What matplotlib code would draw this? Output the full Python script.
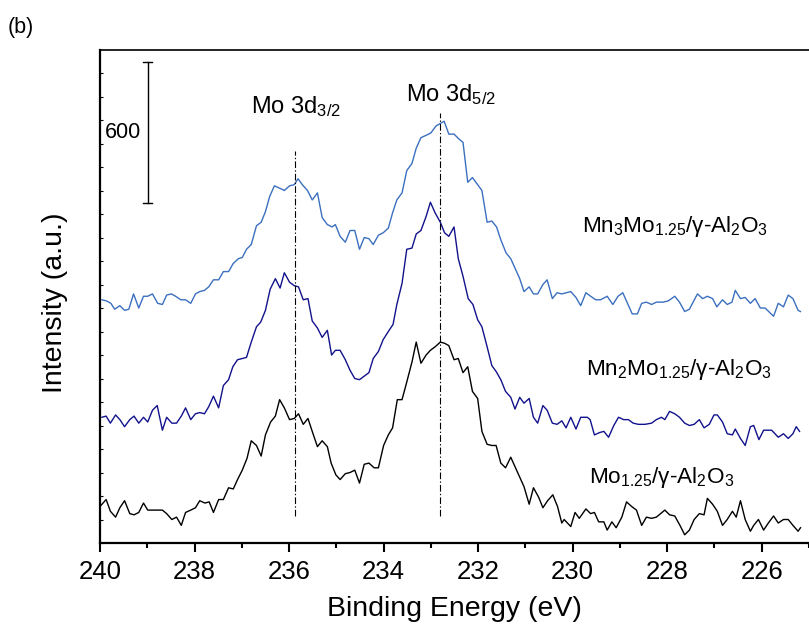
import matplotlib
matplotlib.use("Agg")
import matplotlib.pyplot as plt
import numpy as np

plt.rcParams['font.family'] = ['Liberation Sans', 'DejaVu Sans']
plt.rcParams['mathtext.fontset'] = 'custom'
plt.rcParams['mathtext.rm'] = 'Liberation Sans'
plt.rcParams['mathtext.it'] = 'Liberation Sans'
plt.rcParams['mathtext.default'] = 'regular'

# ---------------- data (binding energy in eV, intensity in counts) ----------------
mn3_energy = [239.96, 239.86, 239.77, 239.69, 239.58, 239.48, 239.39, 239.29, 239.18, 239.08,
              238.99, 238.89, 238.78, 238.68, 238.59, 238.49, 238.40, 238.29, 238.19, 238.08,
              237.98, 237.89, 237.79, 237.70, 237.60, 237.49, 237.39, 237.28, 237.18, 237.07,
              236.99, 236.90, 236.80, 236.69, 236.59, 236.50, 236.41, 236.31, 236.20, 236.10,
              235.99, 235.89, 235.81, 235.72, 235.61, 235.51, 235.40, 235.30, 235.19, 235.09,
              235.02, 234.92, 234.81, 234.71, 234.61, 234.51, 234.41, 234.31, 234.22, 234.11,
              234.01, 233.90, 233.81, 233.72, 233.61, 233.51, 233.40, 233.31, 233.21, 233.10,
              233.00, 232.89, 232.80, 232.72, 232.62, 232.51, 232.41, 232.32, 232.22, 232.12,
              232.01, 231.92, 231.81, 231.71, 231.61, 231.52, 231.41, 231.31, 231.22, 231.12,
              231.03, 230.92, 230.83, 230.74, 230.63, 230.54, 230.43, 230.33, 230.23, 230.04,
              229.93, 229.83, 229.72, 229.62, 229.51, 229.41, 229.27, 229.15, 229.04, 228.94,
              228.84, 228.74, 228.63, 228.54, 228.44, 228.33, 228.23, 228.09, 227.98, 227.84,
              227.74, 227.63, 227.53, 227.36, 227.25, 227.15, 227.04, 226.95, 226.83, 226.73,
              226.63, 226.56, 226.45, 226.35, 226.24, 226.14, 226.03, 225.93, 225.75, 225.65,
              225.54, 225.44, 225.34, 225.23, 225.18]
mn3_counts = [1035, 1030, 1020, 995, 1010, 990, 995, 1060, 1000, 1050,
              1050, 1060, 1020, 1015, 1055, 1060, 1050, 1035, 1035, 1020,
              1060, 1070, 1075, 1090, 1120, 1120, 1155, 1155, 1190, 1210,
              1215, 1250, 1270, 1350, 1365, 1410, 1475, 1520, 1510, 1500,
              1520, 1525, 1550, 1525, 1500, 1460, 1490, 1385, 1355, 1345,
              1355, 1305, 1280, 1330, 1330, 1250, 1300, 1295, 1270, 1310,
              1320, 1340, 1405, 1460, 1490, 1585, 1615, 1680, 1725, 1735,
              1745, 1775, 1785, 1795, 1740, 1740, 1720, 1705, 1535, 1555,
              1525, 1500, 1365, 1370, 1345, 1290, 1235, 1210, 1170, 1125,
              1070, 1090, 1060, 1060, 1100, 1120, 1040, 1065, 1060, 1070,
              1045, 1010, 1065, 1050, 1035, 1035, 1050, 1015, 1050, 1065,
              1020, 975, 975, 1020, 1025, 1015, 1025, 1025, 1030, 1050,
              1025, 985, 995, 1060, 1040, 1050, 1040, 1005, 1035, 1015,
              1025, 1075, 1040, 1045, 1020, 1040, 1000, 1000, 965, 1020,
              1005, 1055, 1040, 990, 985]

mn2_energy = [239.96, 239.87, 239.78, 239.67, 239.58, 239.48, 239.37, 239.28, 239.18, 239.08,
              238.99, 238.89, 238.79, 238.68, 238.59, 238.48, 238.38, 238.28, 238.19, 238.08,
              237.98, 237.89, 237.79, 237.70, 237.60, 237.49, 237.39, 237.28, 237.19, 237.09,
              236.99, 236.90, 236.80, 236.69, 236.60, 236.50, 236.40, 236.29, 236.19, 236.10,
              235.99, 235.89, 235.80, 235.70, 235.60, 235.51, 235.40, 235.30, 235.19, 235.10,
              235.02, 234.92, 234.81, 234.71, 234.61, 234.51, 234.41, 234.31, 234.22, 234.11,
              234.01, 233.90, 233.80, 233.72, 233.61, 233.51, 233.40, 233.31, 233.21, 233.10,
              233.01, 232.91, 232.80, 232.71, 232.62, 232.51, 232.42, 232.32, 232.21, 232.11,
              232.01, 231.92, 231.81, 231.71, 231.62, 231.52, 231.42, 231.31, 231.22, 231.12,
              231.03, 230.92, 230.83, 230.74, 230.63, 230.54, 230.43, 230.33, 230.23, 230.14,
              230.04, 229.93, 229.83, 229.69, 229.63, 229.54, 229.43, 229.34, 229.24, 229.13,
              229.03, 228.92, 228.82, 228.72, 228.61, 228.47, 228.33, 228.23, 228.12, 228.05,
              227.95, 227.84, 227.74, 227.63, 227.53, 227.43, 227.32, 227.22, 227.11, 227.01,
              226.94, 226.83, 226.73, 226.62, 226.56, 226.45, 226.35, 226.24, 226.17, 226.06,
              225.96, 225.79, 225.65, 225.54, 225.44, 225.34, 225.27, 225.20]
mn2_counts = [535, 540, 510, 545, 525, 495, 525, 540, 510, 535,
              515, 565, 585, 480, 535, 510, 510, 540, 575, 525,
              550, 555, 550, 580, 625, 575, 670, 695, 750, 780,
              785, 790, 855, 920, 940, 990, 1080, 1125, 1085, 1150,
              1110, 1095, 1090, 1035, 1040, 945, 915, 875, 905, 800,
              820, 820, 780, 735, 700, 695, 710, 725, 785, 815,
              865, 900, 930, 1015, 1105, 1250, 1255, 1315, 1330, 1390,
              1450, 1405, 1365, 1320, 1305, 1345, 1210, 1135, 1040, 1015,
              950, 920, 835, 755, 730, 695, 645, 620, 570, 620,
              595, 615, 535, 510, 585, 565, 510, 505, 520, 490,
              535, 485, 535, 535, 525, 460, 470, 475, 450, 500,
              535, 525, 525, 510, 505, 505, 510, 525, 535, 525,
              560, 550, 535, 510, 500, 505, 525, 490, 505, 545,
              545, 515, 465, 460, 485, 445, 415, 495, 500, 440,
              480, 480, 450, 465, 445, 465, 495, 475]

mo_energy = [239.98, 239.87, 239.78, 239.67, 239.58, 239.48, 239.37, 239.28, 239.18, 239.08,
             238.99, 238.89, 238.78, 238.68, 238.59, 238.48, 238.38, 238.28, 238.19, 238.08,
             237.98, 237.89, 237.78, 237.69, 237.60, 237.49, 237.39, 237.28, 237.18, 237.09,
             236.99, 236.89, 236.80, 236.69, 236.59, 236.50, 236.39, 236.29, 236.20, 236.10,
             235.99, 235.89, 235.80, 235.70, 235.60, 235.51, 235.40, 235.30, 235.19, 235.11,
             235.01, 234.92, 234.81, 234.71, 234.61, 234.51, 234.41, 234.31, 234.20, 234.11,
             234.00, 233.90, 233.81, 233.71, 233.61, 233.51, 233.40, 233.31, 233.21, 233.10,
             233.01, 232.91, 232.80, 232.71, 232.62, 232.51, 232.42, 232.32, 232.22, 232.12,
             232.01, 231.92, 231.81, 231.71, 231.62, 231.52, 231.42, 231.31, 231.22, 231.12,
             231.03, 230.92, 230.83, 230.72, 230.63, 230.53, 230.42, 230.32, 230.23, 230.18,
             230.04, 229.95, 229.86, 229.72, 229.62, 229.54, 229.45, 229.34, 229.27, 229.17,
             229.08, 228.96, 228.86, 228.75, 228.65, 228.54, 228.44, 228.33, 228.23, 228.05,
             227.95, 227.84, 227.73, 227.63, 227.53, 227.43, 227.32, 227.22, 227.15, 227.04,
             226.94, 226.83, 226.73, 226.62, 226.54, 226.45, 226.35, 226.24, 226.17, 226.07,
             225.96, 225.86, 225.75, 225.65, 225.54, 225.44, 225.34, 225.23, 225.18]
mo_counts = [160, 185, 135, 110, 150, 180, 125, 120, 130, 170,
             140, 140, 140, 140, 125, 100, 110, 75, 130, 140,
             150, 180, 170, 175, 130, 185, 185, 235, 230, 270,
             310, 360, 435, 415, 370, 460, 515, 540, 610, 575,
             525, 530, 550, 505, 530, 475, 410, 435, 410, 340,
             290, 270, 295, 300, 310, 255, 335, 340, 320, 320,
             415, 460, 490, 610, 610, 685, 770, 855, 765, 800,
             820, 835, 855, 850, 840, 780, 785, 725, 750, 645,
             615, 475, 420, 415, 415, 340, 320, 365, 325, 280,
             240, 165, 235, 195, 150, 180, 205, 155, 85, 100,
             70, 130, 105, 145, 125, 130, 90, 90, 55, 90,
             65, 110, 175, 155, 140, 75, 110, 105, 110, 140,
             120, 115, 75, 35, 55, 100, 125, 120, 190, 165,
             135, 75, 100, 135, 110, 180, 100, 50, 75, 100,
             55, 85, 115, 85, 100, 100, 75, 50, 65]

series_labels = [r'Mn$_3$Mo$_{1.25}$/γ-Al$_2$O$_3$',
                 r'Mn$_2$Mo$_{1.25}$/γ-Al$_2$O$_3$',
                 r'Mo$_{1.25}$/γ-Al$_2$O$_3$']
series_colors = ['#3b6fbf', '#12128c', '#000000']
label_energy = [229.80, 229.72, 229.66]
label_counts = [1325, 715, 257]

peak_labels = [r'Mo 3d$_{3/2}$', r'Mo 3d$_{5/2}$']
peak_energy = [235.87, 232.80]
peak_line_top = [1668, 1828]
peak_line_bottom = 113
peak_label_energy = [236.80, 233.52]
peak_label_counts = [1830, 1881]

scale_energy = 238.99
scale_low, scale_high = 1448, 2048
scale_text = '600'

x_major = [240, 238, 236, 234, 232, 230, 228, 226]
x_minor = [239, 237, 235, 233, 231, 229, 227, 225]
y_ticks = list(range(0, 2100, 100))

# ---------------- figure ----------------
W, H = 809, 631
fig = plt.figure(figsize=(W / 100, H / 100), dpi=100)
ax = fig.add_axes([100 / W, 88 / H, 709 / W, 493 / H])

series = [(mn3_energy, mn3_counts), (mn2_energy, mn2_counts), (mo_energy, mo_counts)]
for (e, c), col in zip(series, series_colors):
    ax.plot(e, c, color=col, lw=1.0)

for lab, le, lc in zip(series_labels, label_energy, label_counts):
    ax.text(le, lc, lab, fontsize=16.2, ha='left', va='baseline', color='black')

for pe, pt in zip(peak_energy, peak_line_top):
    ax.plot([pe, pe], [peak_line_bottom, pt], color='black', lw=0.8,
            linestyle=(0, (6, 2, 1.2, 2)))
for lab, le, lc in zip(peak_labels, peak_label_energy, peak_label_counts):
    ax.text(le, lc, lab, fontsize=17, ha='left', va='baseline')

# scale bar
cap = 0.09
ax.plot([scale_energy, scale_energy], [scale_low, scale_high], color='black', lw=1.0)
ax.plot([scale_energy - cap, scale_energy + cap], [scale_high, scale_high], color='black', lw=1.0)
ax.plot([scale_energy - cap, scale_energy + cap], [scale_low, scale_low], color='black', lw=1.0)
ax.text(239.90, (scale_low + scale_high) / 2, scale_text, fontsize=15.5, ha='left', va='center')

ax.set_xlim(240, 225.18)
ax.set_ylim(0, 2098)
ax.set_xticks(x_major)
ax.set_xticks(x_minor, minor=True)
ax.set_xticklabels([str(v) for v in x_major])
ax.set_yticks(y_ticks)
ax.set_yticklabels([])
ax.tick_params(axis='x', which='major', direction='out', length=6.5, width=1.5,
               labelsize=18.5, pad=6)
ax.tick_params(axis='x', which='minor', direction='out', length=3.5, width=1.5)
ax.tick_params(axis='y', which='major', direction='in', length=2.5, width=0.8)

for side in ['left', 'bottom']:
    ax.spines[side].set_linewidth(1.6)
ax.spines['top'].set_linewidth(1.2)
ax.spines['right'].set_visible(False)

ax.set_xlabel('Binding Energy (eV)', fontsize=20.5)
ax.set_ylabel('Intensity (a.u.)', fontsize=20.5)
ax.xaxis.set_label_coords(0.5, -0.107)
ax.yaxis.set_label_coords(-0.045, 0.487)

fig.text(8 / W, 1 - 27 / H, '(b)', fontsize=15.5, ha='left', va='center')

fig.savefig('out.png', dpi=100)
